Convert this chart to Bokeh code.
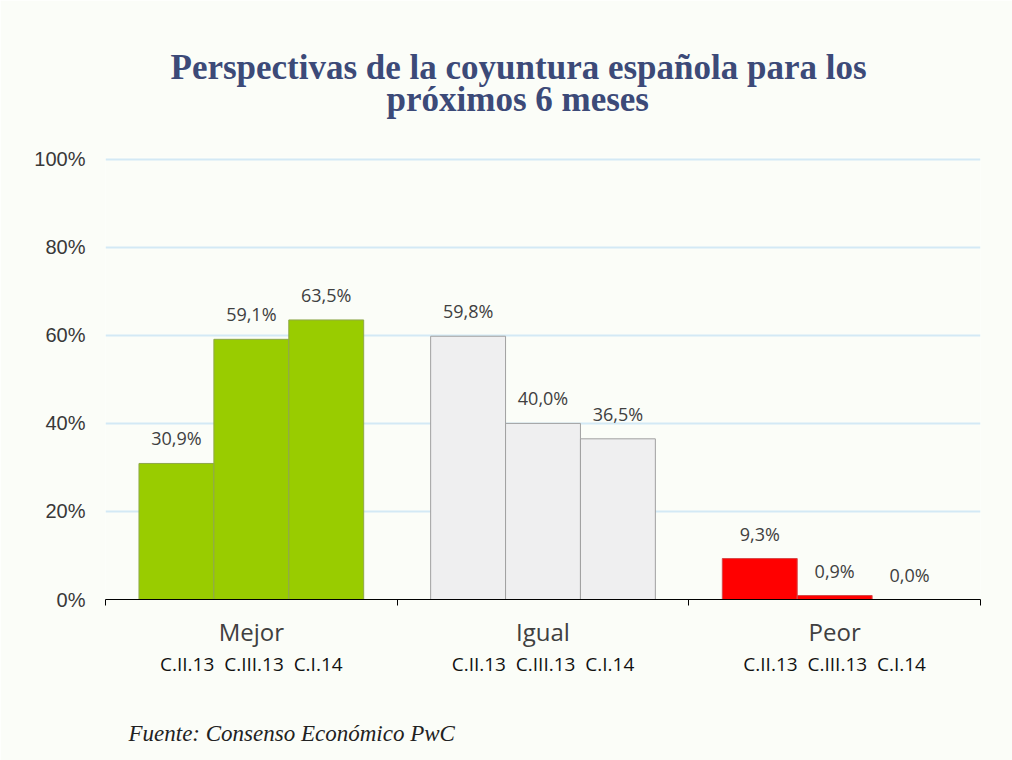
from bokeh.plotting import figure
from bokeh.models import (ColumnDataSource, FixedTicker, LinearAxis, Range1d, Title)
from bokeh.core.properties import value
from bokeh.embed import file_html
from bokeh.resources import INLINE

# ---- data ----
groups = ["Mejor", "Igual", "Peor"]
periods = ["C.II.13", "C.III.13", "C.I.14"]
mejor = [30.9, 59.1, 63.5]
igual = [59.8, 40.0, 36.5]
peor = [9.3, 0.9, 0.0]
y_ticks = [0, 20, 40, 60, 80, 100]
title_lines = ["Perspectivas de la coyuntura española para los", "próximos 6 meses"]
source_note = "Fuente: Consenso Económico PwC"

series = [mejor, igual, peor]
fills = ["#99CC00", "#EFEFF0", "#FF0000"]
lines = ["#8FA84A", "#A0A0A0", "#D84848"]

BG = "#FBFDF8"
BAR_W = 0.2568
TITLE_COLOR = "#3C4A78"

xs, tops, fcol, lcol, labels = [], [], [], [], []
for gi, vals in enumerate(series):
    for pj, v in enumerate(vals):
        xs.append(gi + 0.5 + (pj - 1) * BAR_W)
        tops.append(v)
        fcol.append(fills[gi])
        lcol.append(lines[gi])
        labels.append(f"{v:.1f}".replace(".", ",") + "%")

src = ColumnDataSource(dict(x=xs, top=tops, fill=fcol, line=lcol, label=labels))

p = figure(width=1012, height=760, output_backend="svg", toolbar_location=None,
           x_range=Range1d(0, 3), y_range=Range1d(0, 100.4),
           x_axis_location=None, title=None,
           min_border_left=105, min_border_right=32, min_border_top=157,
           min_border_bottom=161)
p.background_fill_color = BG
p.border_fill_color = BG
p.outline_line_color = None

# grid
p.xgrid.visible = False
p.ygrid.ticker = FixedTicker(ticks=[t for t in y_ticks if t > 0])
p.ygrid.grid_line_color = "#D3E9F5"
p.ygrid.grid_line_width = 2

# bars
p.vbar(x="x", top="top", bottom=0, width=BAR_W, source=src,
       fill_color="fill", line_color="line", line_width=1)

# value labels
p.text(x="x", y="top", text="label", source=src, text_align="center",
       text_baseline="middle", y_offset=-25, text_font=value("Open Sans"),
       text_font_size="18px", text_color="#404040")

# y axis
ya = p.yaxis[0]
ya.ticker = FixedTicker(ticks=y_ticks)
ya.major_label_overrides = {t: f"{t}%" for t in y_ticks}
ya.axis_line_color = None
ya.major_tick_line_color = None
ya.major_tick_out = 0
ya.major_tick_in = 0
ya.minor_tick_line_color = None
ya.major_label_text_font = "Liberation Sans"
ya.major_label_text_font_size = "20px"
ya.major_label_text_color = "#383838"
ya.major_label_standoff = 20

# x axis: group labels with boundary ticks
centers = [i + 0.5 for i in range(len(groups))]
xa = LinearAxis(ticker=FixedTicker(ticks=centers, minor_ticks=list(range(len(groups) + 1))),
                major_label_overrides={c: g for c, g in zip(centers, groups)})
xa.axis_line_color = "#000000"
xa.axis_line_width = 1
xa.major_tick_line_color = None
xa.major_tick_out = 0
xa.major_tick_in = 0
xa.minor_tick_line_color = "#000000"
xa.minor_tick_out = 6
xa.minor_tick_in = 0
xa.major_label_text_font = "Open Sans"
xa.major_label_text_font_size = "24px"
xa.major_label_text_color = "#404040"
xa.major_label_standoff = 9
p.add_layout(xa, "below")

# x axis: period sub-labels
xa2 = LinearAxis(ticker=FixedTicker(ticks=centers, minor_ticks=[]),
                 major_label_overrides={c: "\u00a0\u00a0".join(periods) for c in centers})
xa2.axis_line_color = None
xa2.major_tick_line_color = None
xa2.major_tick_out = 0
xa2.major_tick_in = 0
xa2.minor_tick_line_color = None
xa2.major_label_text_font = "Open Sans"
xa2.major_label_text_font_size = "19px"
xa2.major_label_text_color = "#111111"
xa2.major_label_standoff = 0
p.add_layout(xa2, "below")

# spacer + source note
p.add_layout(Title(text=" ", text_font_size="23px", standoff=6), "below")
note = Title(text=source_note, align="left", offset=23,
             text_font="Liberation Serif", text_font_style="italic",
             text_font_size="23px", text_color="#222222", standoff=10)
p.add_layout(note, "below")

# spacer + titles (added closest-first)
p.add_layout(Title(text=" ", text_font_size="35px", standoff=7), "above")
t2 = Title(text=title_lines[1], align="left", offset=281, text_font="Liberation Serif",
           text_font_style="bold", text_font_size="35px", text_color=TITLE_COLOR, standoff=-18)
p.add_layout(t2, "above")
t1 = Title(text=title_lines[0], align="left", offset=65, text_font="Liberation Serif",
           text_font_style="bold", text_font_size="35px", text_color=TITLE_COLOR, standoff=0)
p.add_layout(t1, "above")

open("out.html", "w").write(file_html(p, INLINE))
